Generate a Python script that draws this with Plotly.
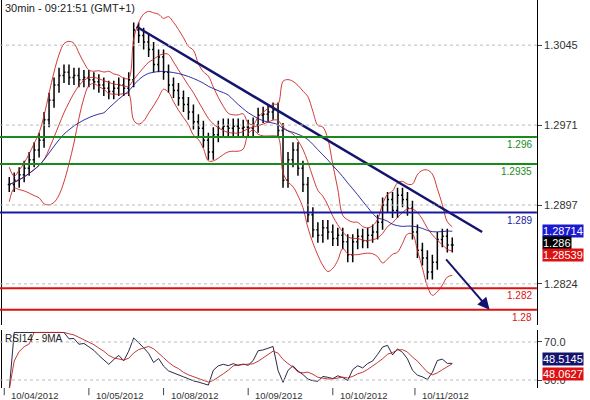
import numpy as np
import pandas as pd
import plotly.graph_objects as go

# 30min EUR closes, one every ~2.5 h
closes = [1.2916, 1.2920, 1.2925, 1.2931, 1.2939, 1.2948, 1.2957, 1.2976, 1.2994, 1.3008,
          1.3017, 1.3020, 1.3015, 1.3017, 1.3013, 1.3015, 1.3013, 1.3011, 1.3008, 1.3005,
          1.3002, 1.3005, 1.3008, 1.3005, 1.3013, 1.3059, 1.3054, 1.3048, 1.3041, 1.3027,
          1.3034, 1.3020, 1.3008, 1.3003, 1.2996, 1.2990, 1.2983, 1.2974, 1.2968, 1.2957,
          1.2946, 1.2962, 1.2968, 1.2970, 1.2968, 1.2970, 1.2968, 1.2969, 1.2968, 1.2971,
          1.2980, 1.2981, 1.2983, 1.2985, 1.2966, 1.2920, 1.2939, 1.2948, 1.2931, 1.2916,
          1.2888, 1.2874, 1.2869, 1.2876, 1.2872, 1.2866, 1.2869, 1.2863, 1.2851, 1.2863,
          1.2868, 1.2864, 1.2869, 1.2872, 1.2881, 1.2897, 1.2902, 1.2892, 1.2906, 1.2902,
          1.2894, 1.2872, 1.2855, 1.2848, 1.2835, 1.2844, 1.2865, 1.2868, 1.2860, 1.2860]
date_labels = ["10/04/2012", "10/05/2012", "10/08/2012", "10/09/2012", "10/10/2012", "10/11/2012"]
date_pos = [-1, 16, 31, 48, 65, 81.5]
price_ticks = [1.3045, 1.2971, 1.2897, 1.2824]
green_levels = [1.296, 1.2935]
blue_levels = [1.289]
red_levels = [1.282, 1.28]

c = pd.Series(closes)
x = np.arange(len(c))
o = c.shift(1).fillna(c[0])
hi = np.maximum(o, c) + 0.0007
lo = np.minimum(o, c) - 0.0007
mid = c.rolling(8, min_periods=1).mean()
sd = c.rolling(8, min_periods=2).std().fillna(0.0008)
ma = c.rolling(20, min_periods=1).mean()
d = c.diff().fillna(0)
up = d.clip(lower=0).ewm(span=10).mean()
dn = (-d.clip(upper=0)).ewm(span=10).mean()
rsi = 100 - 100 / (1 + up / (dn + 1e-9))
rsi = 50 + (rsi - 50) * 0.6
rsi_ma = rsi.rolling(5, min_periods=1).mean()

fig = go.Figure()
fig.add_trace(go.Ohlc(x=x, open=o, high=hi, low=lo, close=c, increasing_line_color="black",
                      decreasing_line_color="black", line_width=1.5, tickwidth=0.3))
for s in [mid + 2 * sd, mid, mid - 2 * sd]:
    fig.add_trace(go.Scatter(x=x, y=s, mode="lines", line=dict(color="#cc2222", width=0.9, shape="spline")))
fig.add_trace(go.Scatter(x=x, y=ma, mode="lines", line=dict(color="#1a1a99", width=0.9, shape="spline")))
fig.add_trace(go.Scatter(x=[25.6, 95], y=[1.3062, 1.2872], mode="lines", line=dict(color="#14146e", width=2.5)))
fig.add_trace(go.Scatter(x=x, y=rsi, mode="lines", line=dict(color="#111133", width=0.9), yaxis="y2"))
fig.add_trace(go.Scatter(x=x, y=rsi_ma, mode="lines", line=dict(color="#bb2222", width=0.9), yaxis="y2"))

for lv, col in [(v, "#1a8a1a") for v in green_levels] + [(v, "#1a1aa0") for v in blue_levels] + [(v, "#dd1111") for v in red_levels]:
    fig.add_shape(type="line", xref="paper", x0=0, x1=0.91, y0=lv, y1=lv, line=dict(color=col, width=2))
    fig.add_annotation(xref="paper", x=0.905, y=lv, text=str(lv), showarrow=False, xanchor="right",
                       yanchor="top", font=dict(size=10, color=col))
for t in price_ticks:
    fig.add_shape(type="line", xref="paper", x0=0, x1=0.91, y0=t, y1=t, line=dict(color="#bbbbbb", width=1, dash="dot"))
for t in [70, 30]:
    fig.add_shape(type="line", xref="paper", x0=0, x1=0.91, yref="y2", y0=t, y1=t, line=dict(color="#bbbbbb", width=1, dash="dot"))

fig.add_annotation(x=96.5, y=1.2800, ax=87.5, ay=1.2848, axref="x", ayref="y", showarrow=True,
                   arrowhead=2, arrowsize=1.2, arrowwidth=2, arrowcolor="#14146e", text="")

for txt, yv, bg in [("1.28714", 1.28730, "#1a1ad0"), ("1.286", 1.2862, "black"), ("1.28539", 1.28510, "#dd1111")]:
    fig.add_annotation(xref="paper", x=0.918, y=yv, text=txt, showarrow=False, xanchor="left",
                       bgcolor=bg, font=dict(size=11, color="white"), borderpad=0)
for txt, yv, bg in [("48.5145", 52, "#14146e"), ("48.0627", 36, "#dd1111")]:
    fig.add_annotation(xref="paper", x=0.918, y=yv, yref="y2", text=txt, showarrow=False, xanchor="left",
                       bgcolor=bg, font=dict(size=11, color="white"), borderpad=0)
for lab, p in zip(date_labels, date_pos):
    fig.add_annotation(x=p + 1, y=0.029, yref="paper", text=lab, showarrow=False, xanchor="left",
                       yanchor="top", font=dict(size=9.5, color="#333"))
    fig.add_shape(type="line", x0=p, x1=p, yref="paper", y0=0.012, y1=0.03, line=dict(color="#444", width=1))
fig.add_annotation(xref="paper", yref="paper", x=0.005, y=1, text="30min - 09:21:51 (GMT+1)", showarrow=False,
                   xanchor="left", yanchor="top", font=dict(size=11, color="#222"))
fig.add_annotation(xref="paper", yref="paper", x=0.005, y=0.172, text="RSI14 - 9MA", showarrow=False,
                   xanchor="left", yanchor="top", font=dict(size=10, color="#222"))

fig.update_layout(
    width=590, height=400, margin=dict(l=0, r=0, t=0, b=0, autoexpand=False), showlegend=False,
    paper_bgcolor="white", plot_bgcolor="white", font=dict(family="Arial, Liberation Sans"),
    xaxis=dict(domain=[0.003, 0.91], range=[-1.5, 106], showticklabels=False, showgrid=False,
               rangeslider=dict(visible=False), zeroline=False, anchor="y2"),
    yaxis=dict(domain=[0.1875, 1], range=[1.27859, 1.30868], side="right", tickvals=price_ticks,
               ticktext=[f"{t:.4f}" for t in price_ticks], showgrid=False, zeroline=False,
               showline=True, linecolor="black", mirror=True, ticks="outside", ticklen=4,
               tickfont=dict(size=11, color="#333")),
    yaxis2=dict(domain=[0.03, 0.175], range=[21.6, 82.6], side="right", tickvals=[70, 30],
                ticktext=["70.0", "30.0"], showgrid=False, zeroline=False, showline=True,
                linecolor="black", mirror=True, ticks="outside", ticklen=4, tickfont=dict(size=11, color="#333")),
)
fig.write_html("out.html", config={"displayModeBar": False}, post_script="document.body.style.margin='0';")
